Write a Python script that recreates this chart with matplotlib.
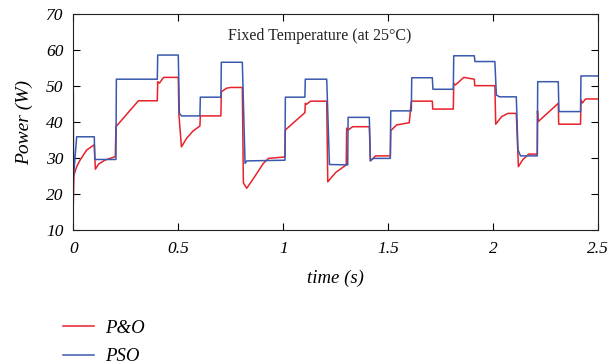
import matplotlib
matplotlib.use("Agg")
import matplotlib.pyplot as plt
from matplotlib.font_manager import FontProperties

# PSO (blue) breakpoints
pso_t = [0, 0.001, 0.016, 0.1, 0.102, 0.203, 0.205, 0.40, 0.402, 0.50, 0.505, 0.515,
         0.603, 0.605, 0.703, 0.705, 0.805, 0.818, 0.826, 1.008, 1.01, 1.103, 1.105,
         1.207, 1.22, 1.307, 1.309, 1.41, 1.415, 1.43, 1.51, 1.512, 1.61, 1.612,
         1.71, 1.713, 1.81, 1.812, 1.91, 1.913, 2.008, 2.015, 2.03, 2.11, 2.118,
         2.13, 2.21, 2.212, 2.31, 2.313, 2.416, 2.418, 2.5]
pso_p = [48, 24.8, 35.9, 35.9, 29.6, 29.6, 51.9, 51.9, 58.6, 58.6, 42.5, 41.7,
         41.7, 46.9, 46.9, 56.6, 56.6, 28.5, 29.2, 29.4, 46.9, 46.9, 51.9,
         51.9, 28.2, 28.1, 41.3, 41.3, 29.3, 29.9, 29.9, 43.1, 43.1, 52.3,
         52.3, 49.1, 49.1, 58.4, 58.4, 56.8, 56.8, 47.5, 47.0, 47.0, 32.3,
         30.6, 30.6, 51.2, 51.2, 42.9, 42.9, 52.8, 52.8]

# P&O (red) breakpoints
po_t = [0, 0.003, 0.016, 0.032, 0.063, 0.1, 0.105, 0.12, 0.15, 0.2, 0.203, 0.31,
        0.40, 0.402, 0.41, 0.43, 0.50, 0.503, 0.515, 0.54, 0.57, 0.603, 0.605,
        0.703, 0.705, 0.73, 0.75, 0.805, 0.81, 0.826, 0.86, 0.905, 0.93, 1.008,
        1.01, 1.103, 1.105, 1.11, 1.13, 1.207, 1.212, 1.25, 1.30, 1.302, 1.31,
        1.33, 1.41, 1.415, 1.44, 1.51, 1.512, 1.54, 1.6, 1.61, 1.71, 1.712,
        1.81, 1.812, 1.82, 1.86, 1.91, 1.912, 2.008, 2.012, 2.04, 2.07, 2.11,
        2.12, 2.14, 2.17, 2.21, 2.211, 2.214, 2.31, 2.312, 2.416, 2.418, 2.425,
        2.44, 2.5]
po_p = [17.4, 25.3, 27.6, 29.4, 32.2, 33.7, 26.9, 28.3, 29.4, 30.4, 38.7, 45.9,
        45.9, 51.2, 50.8, 52.4, 52.4, 42.0, 33.1, 35.5, 37.5, 38.9, 41.7,
        41.7, 48.4, 49.4, 49.6, 49.6, 23.1, 21.6, 24.5, 28.5, 29.9, 30.3,
        37.8, 42.6, 45.2, 44.9, 45.8, 45.8, 23.4, 26.0, 28.1, 38.3, 37.8,
        38.7, 38.7, 29.2, 30.6, 30.6, 37.6, 39.2, 39.8, 45.8, 45.8, 43.6,
        43.6, 50.7, 50.3, 52.4, 51.9, 50.1, 50.1, 39.4, 41.5, 42.4, 42.4,
        27.6, 29.5, 31.1, 31.1, 43.1, 40.1, 45.2, 39.4, 39.4, 46.1, 45.3,
        46.4, 46.4]

x_ticks = [0, 0.5, 1, 1.5, 2, 2.5]
x_ticklabels = ["0", "0.5", "1", "1.5", "2", "2.5"]
y_ticks = [10, 20, 30, 40, 50, 60, 70]

plt.rcParams["font.family"] = ["Liberation Serif", "DejaVu Serif"]
plt.rcParams["font.style"] = "italic"

fig = plt.figure(figsize=(6.11, 3.64), dpi=100)
ax = fig.add_axes([0.12, 0.368, 0.859, 0.5935])

ax.plot(po_t, po_p, color="#e8212a", lw=1.1, label="P&O")
ax.plot(pso_t, pso_p, color="#3a59ae", lw=1.1, label="PSO")

ax.set_xlim(0, 2.5)
ax.set_ylim(10, 70)
ax.tick_params(direction="in", top=True, right=True, length=5, width=0.8,
               labelsize=13)
ax.tick_params(axis="y", pad=7)
ax.tick_params(axis="x", pad=8)
ax.set_xticks(x_ticks)
ax.set_xticklabels(x_ticklabels)
ax.set_yticks(y_ticks)
for sp in ax.spines.values():
    sp.set_linewidth(0.8)
    sp.set_color("#222222")

ax.set_xlabel("time (s)", fontsize=13.5, fontstyle="italic", labelpad=9)
ax.set_ylabel("Power (W)", fontsize=14, fontstyle="italic", labelpad=9)

ax.text(0.47, 0.9, "Fixed Temperature (at 25°C)", transform=ax.transAxes,
        ha="center", va="center", fontsize=11.5, fontstyle="normal",
        color="#222222")

ax.legend(loc="upper left", bbox_to_anchor=(0.103, 0.122),
          bbox_transform=fig.transFigure, frameon=False,
          prop={"style": "italic", "size": 13.5}, handlelength=1.65,
          handletextpad=0.6, labelspacing=0.6, borderpad=0, borderaxespad=0)

fig.canvas.draw()
tick_fp = FontProperties(family=["Liberation Serif", "DejaVu Serif"],
                         style="italic", size=12.5)
for lab in ax.get_xticklabels() + ax.get_yticklabels():
    lab.set_fontproperties(tick_fp)

fig.savefig("out.png", dpi=100)
